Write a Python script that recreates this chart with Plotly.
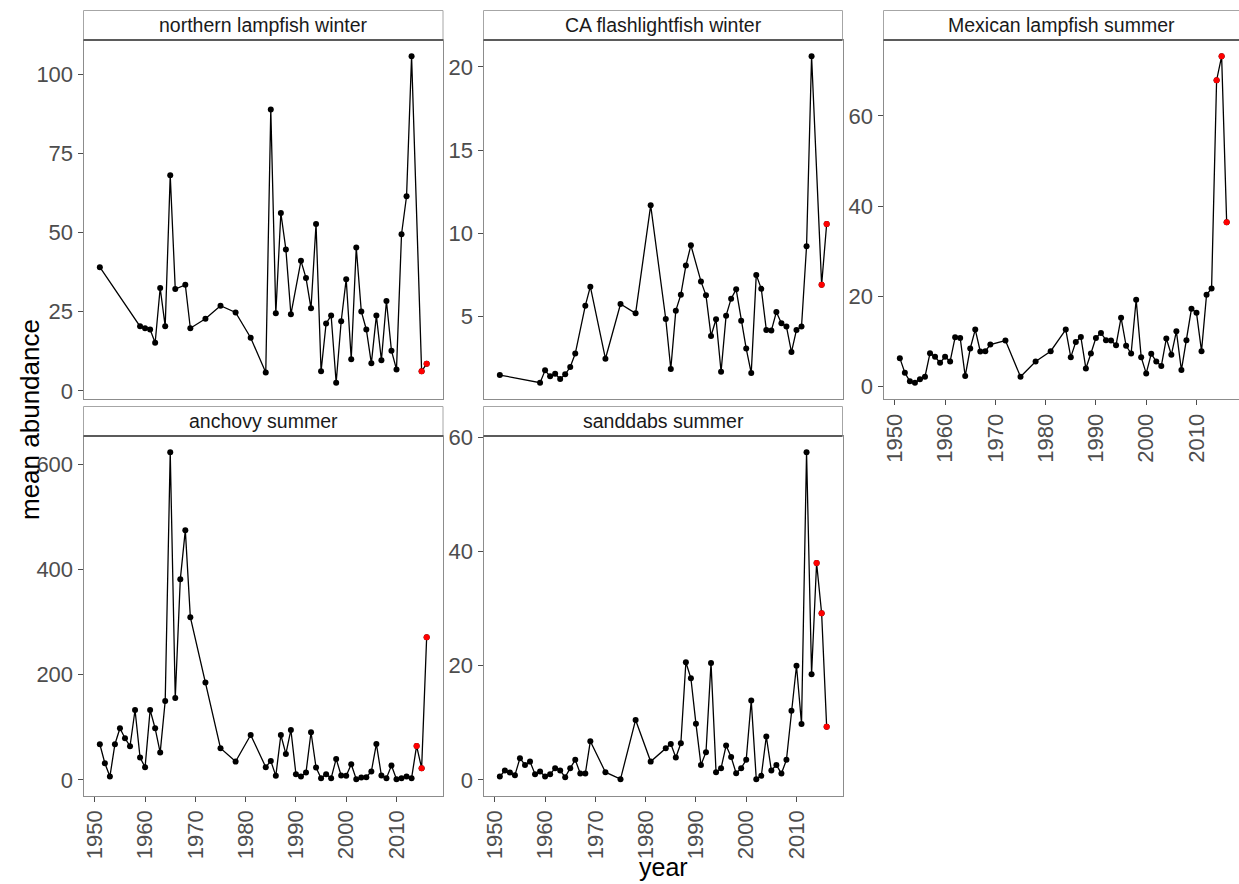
import plotly.graph_objects as go

# ---------------- data ----------------
winter_years = [1951, 1959, 1960, 1961, 1962, 1963, 1964, 1965, 1966, 1968, 1969,
                1972, 1975, 1978, 1981, 1984, 1985, 1986, 1987, 1988, 1989,
                1991, 1992, 1993, 1994, 1995, 1996, 1997, 1998, 1999, 2000,
                2001, 2002, 2003, 2004, 2005, 2006, 2007, 2008, 2009, 2010,
                2011, 2012, 2013, 2015, 2016]

summer_years = [1951, 1952, 1953, 1954, 1955, 1956, 1957, 1958, 1959, 1960,
                1961, 1962, 1963, 1964, 1965, 1966, 1967, 1968, 1969,
                1972, 1975, 1978, 1981,
                1984, 1985, 1986, 1987, 1988, 1989, 1990, 1991, 1992, 1993,
                1994, 1995, 1996, 1997, 1998, 1999, 2000, 2001, 2002, 2003,
                2004, 2005, 2006, 2007, 2008, 2009, 2010, 2011, 2012, 2013,
                2014, 2015, 2016]

northern_lampfish_winter = [39.1, 20.4, 19.8, 19.4, 15.2, 32.5, 20.4, 68.1, 32.2, 33.5, 19.8,
                            22.8, 26.9, 24.8, 16.8, 5.8, 88.9, 24.5, 56.2, 44.7, 24.2,
                            41.1, 35.7, 26.1, 52.7, 6.2, 21.3, 23.8, 2.6, 22.0, 35.3,
                            10.0, 45.3, 25.1, 19.4, 8.7, 23.8, 9.7, 28.4, 12.7, 6.8,
                            49.5, 61.5, 105.7, 6.2, 8.6]

ca_flashlightfish_winter = [1.48, 1.02, 1.76, 1.40, 1.56, 1.24, 1.52, 1.96, 2.77, 5.65, 6.79,
                            2.46, 5.75, 5.19, 11.68, 4.85, 1.84, 5.35, 6.31, 8.06, 9.28,
                            7.11, 6.27, 3.83, 4.83, 1.68, 5.05, 6.07, 6.63, 4.75, 3.07,
                            1.60, 7.50, 6.66, 4.19, 4.15, 5.27, 4.59, 4.39, 2.86, 4.19,
                            4.39, 9.22, 20.64, 6.90, 10.56]

mexican_lampfish_summer = [6.25, 3.02, 1.10, 0.81, 1.55, 2.13, 7.36, 6.55, 5.23, 6.55,
                           5.52, 10.89, 10.74, 2.28, 8.39, 12.58, 7.73, 7.80, 9.27,
                           10.15, 2.13, 5.52, 7.80,
                           12.58, 6.47, 9.86, 10.96, 3.97, 7.28, 10.74, 11.85, 10.23, 10.15,
                           9.12, 15.23, 8.98, 7.28, 19.2, 6.47, 2.87, 7.21, 5.52, 4.49,
                           10.6, 7.0, 12.2, 3.6, 10.2, 17.2, 16.3, 7.8, 20.3, 21.7,
                           67.9, 73.2, 36.4]

anchovy_summer = [67.8, 31.6, 6.3, 67.8, 98.1, 79.2, 64.0, 132.9, 42.3, 24.1,
                  132.9, 98.1, 51.9, 150.0, 623.4, 155.7, 381.6, 475.3, 309.5,
                  185.5, 60.2, 34.8, 85.4,
                  24.1, 36.1, 7.6, 85.4, 49.4, 94.9, 10.8, 6.3, 13.9, 90.6,
                  23.4, 3.2, 10.8, 3.2, 39.9, 8.2, 7.6, 29.7, 1.3, 4.4,
                  5.1, 15.8, 68.4, 8.2, 3.2, 27.2, 1.3, 3.2, 6.3, 3.2,
                  64.6, 22.2, 271.5]

sanddabs_summer = [0.58, 1.63, 1.28, 0.82, 3.79, 2.62, 3.2, 1.0, 1.46, 0.58,
                   1.0, 2.04, 1.63, 0.47, 2.04, 3.5, 1.1, 1.1, 6.77,
                   1.34, 0.12, 10.5, 3.2,
                   5.54, 6.3, 3.9, 6.4, 20.6, 17.8, 9.85, 2.62, 4.84, 20.5,
                   1.34, 2.04, 6.0, 4.0, 1.17, 2.04, 3.5, 13.9, 0.12, 0.7,
                   7.6, 1.63, 2.62, 1.1, 3.5, 12.1, 20.0, 9.8, 57.4, 18.5,
                   38.0, 29.2, 9.3]

panel_titles = ["northern lampfish winter", "CA flashlightfish winter",
                "Mexican lampfish summer", "anchovy summer", "sanddabs summer"]
panel_years = [winter_years, winter_years, summer_years, summer_years, summer_years]
panel_values = [northern_lampfish_winter, ca_flashlightfish_winter,
                mexican_lampfish_summer, anchovy_summer, sanddabs_summer]
panel_yticks = [[0, 25, 50, 75, 100], [5, 10, 15, 20], [0, 20, 40, 60],
                [0, 200, 400, 600], [0, 20, 40, 60]]
x_ticks = [1950, 1960, 1970, 1980, 1990, 2000, 2010]
highlight_from_year = 2014

# ---------------- layout geometry (pixels) ----------------
W, H = 1239, 884
# left, right, top, bottom
boxes = [(83.5, 443.0, 40.0, 399.0),
         (483.5, 842.5, 40.0, 399.0),
         (883.5, 1239.0, 40.0, 399.0),
         (83.5, 443.0, 436.0, 795.5),
         (483.5, 842.5, 436.0, 795.5)]
strip_h = 29.5
show_x_labels = [False, False, True, True, True]
cut_at_right = [False, False, True, False, False]

FONT = "Liberation Sans, Arial, sans-serif"
x_lo, x_hi_full = 1947.75, 2019.25
full_w = 443.0 - 83.5
px_per_year = full_w / (x_hi_full - x_lo)

fig = go.Figure()
layout = dict(
    width=W, height=H, autosize=False,
    margin=dict(l=0, r=0, t=0, b=0, pad=0, autoexpand=False),
    paper_bgcolor="white", plot_bgcolor="white", showlegend=False,
    font=dict(family=FONT),
)
shapes = []
annotations = []

for i, (title, yrs, vals, yt, box, sxl, cut) in enumerate(
        zip(panel_titles, panel_years, panel_values, panel_yticks, boxes,
            show_x_labels, cut_at_right)):
    n = i + 1
    xa = "x" if n == 1 else f"x{n}"
    ya = "y" if n == 1 else f"y{n}"
    L, R, T, B = box
    fig.add_trace(go.Scatter(x=yrs, y=vals, xaxis=xa, yaxis=ya, mode="lines+markers",
                             line=dict(color="black", width=1.3),
                             marker=dict(color="black", size=6),
                             hoverinfo="x+y"))
    hx = [x for x in yrs if x >= highlight_from_year]
    hy = [v for x, v in zip(yrs, vals) if x >= highlight_from_year]
    fig.add_trace(go.Scatter(x=hx, y=hy, xaxis=xa, yaxis=ya, mode="markers",
                             marker=dict(color="#FF0000", size=6), hoverinfo="x+y"))

    vmin, vmax = min(vals), max(vals)
    span = vmax - vmin
    yr = [vmin - 0.05 * span, vmax + 0.05 * span]
    xr = [x_lo, x_lo + (R - L) / px_per_year]

    axis_common = dict(showgrid=False, zeroline=False, showline=True, mirror=True,
                       linecolor="#8C8C8C", linewidth=1, automargin=False,
                       ticks="outside", ticklen=5, tickcolor="#4D4D4D", tickwidth=1,
                       tickfont=dict(family=FONT, size=22, color="#4D4D4D"))
    xkey = "xaxis" if n == 1 else f"xaxis{n}"
    ykey = "yaxis" if n == 1 else f"yaxis{n}"
    layout[xkey] = dict(axis_common, domain=[L / W, R / W], range=xr,
                        anchor=ya, tickmode="array", tickvals=x_ticks,
                        ticktext=[str(t) for t in x_ticks], tickangle=-90,
                        showticklabels=sxl, ticks="outside" if sxl else "")
    layout[ykey] = dict(axis_common, domain=[1 - B / H, 1 - T / H], range=yr,
                        anchor=xa, tickmode="array", tickvals=yt,
                        ticktext=[str(t) for t in yt],
                        mirror=False if cut else True)

    # strip
    x1_strip = (R + 6) / W if cut else R / W
    shapes.append(dict(type="rect", xref="paper", yref="paper",
                       x0=L / W, x1=x1_strip, y0=1 - T / H, y1=1 - (T - strip_h) / H,
                       fillcolor="white", line=dict(color="#A6A6A6", width=1)))
    shapes.append(dict(type="line", xref="paper", yref="paper",
                       x0=L / W, x1=x1_strip, y0=1 - T / H, y1=1 - T / H,
                       line=dict(color="#333333", width=1.3)))
    annotations.append(dict(text=title, xref="paper", yref="paper",
                            x=(L + min(R, L + full_w)) / 2 / W, y=1 - (T - strip_h / 2) / H,
                            xanchor="center", yanchor="middle", showarrow=False,
                            font=dict(family=FONT, size=19.5, color="#1A1A1A")))

annotations.append(dict(text="mean abundance", xref="paper", yref="paper",
                        x=30 / W, y=1 - 420 / H, textangle=-90, showarrow=False,
                        xanchor="center", yanchor="middle",
                        font=dict(family=FONT, size=26, color="black")))
annotations.append(dict(text="year", xref="paper", yref="paper",
                        x=663 / W, y=1 - 867 / H, showarrow=False,
                        xanchor="center", yanchor="middle",
                        font=dict(family=FONT, size=25, color="black")))

layout["shapes"] = shapes
layout["annotations"] = annotations
fig.update_layout(**layout)
fig.write_html("out.html")
